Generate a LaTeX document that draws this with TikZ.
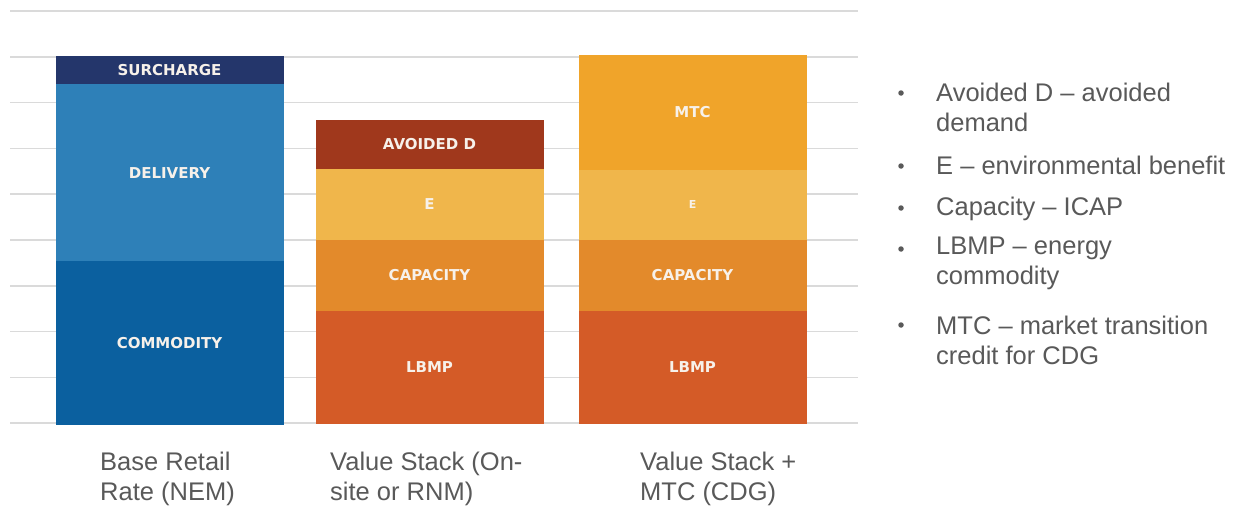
\documentclass[tikz,border=0pt]{standalone}
\usepackage{fontspec}
\setmainfont{Liberation Sans}
\newfontfamily\barfont{DejaVu Sans}
\usepackage{tikz}
\usetikzlibrary{positioning}
\definecolor{surchargeblue}{HTML}{24366B}
\definecolor{deliveryblue}{HTML}{2E80B8}
\definecolor{commodityblue}{HTML}{0B609F}
\definecolor{avoidedred}{HTML}{A0381C}
\definecolor{envyellow}{HTML}{F0B64B}
\definecolor{capacityorange}{HTML}{E38A2B}
\definecolor{lbmporange}{HTML}{D45B27}
\definecolor{mtcorange}{HTML}{F0A42A}
\definecolor{gridgray}{HTML}{DADADA}
\definecolor{labelgray}{HTML}{595959}
\definecolor{inkwhite}{HTML}{F7F1EA}
\tikzset{segment/.style={rectangle, minimum width=227pt, inner sep=0pt, fill=#1, draw=#1, line width=0.6pt, text=inkwhite, font=\barfont\bfseries\fontsize{15}{17}\selectfont}}
\tikzstyle{gridline} = [draw=gridgray, line width=1.5pt]
\tikzstyle{caption} = [anchor=north west, align=left, inner sep=0pt, text=labelgray, font=\fontsize{25.5}{30}\selectfont]
\tikzstyle{legend} = [anchor=north west, align=left, inner sep=0pt, text=labelgray, font=\fontsize{25.5}{30}\selectfont]
\tikzstyle{dot} = [circle, fill=labelgray, inner sep=0pt, minimum size=5.5pt]

\begin{document}
\begin{tikzpicture}[x=1pt, y=-1pt]
        \useasboundingbox (0,0) rectangle (1243,506);
        \foreach \y in {11,56.8,...,424}
            \draw [gridline] (10,\y) -- (858,\y);

        % base retail rate
        \node (surcharge) [segment=surchargeblue, minimum height=28pt] at (169.5,70) {SURCHARGE};
        \node (delivery) [segment=deliveryblue, minimum height=176pt, below=0pt of surcharge] {DELIVERY};
        \node (commodity) [segment=commodityblue, minimum height=163pt, below=0pt of delivery] {COMMODITY};

        % value stack
        \node (lbmp) [segment=lbmporange, minimum height=112pt] at (429.5,367) {LBMP};
        \node (capacity) [segment=capacityorange, minimum height=71pt, above=0pt of lbmp] {CAPACITY};
        \node (env) [segment=envyellow, minimum height=70pt, above=0pt of capacity] {E};
        \node (avoided) [segment=avoidedred, minimum height=48pt, above=0pt of env] {AVOIDED D};

        % value stack + mtc
        \node (lbmpmtc) [segment=lbmporange, minimum height=112pt] at (692.5,367) {LBMP};
        \node (capacitymtc) [segment=capacityorange, minimum height=71pt, above=0pt of lbmpmtc] {CAPACITY};
        \node (envmtc) [segment=envyellow, minimum height=69pt, above=0pt of capacitymtc, font=\barfont\bfseries\fontsize{11}{13}\selectfont] {E};
        \node (mtc) [segment=mtcorange, minimum height=114pt, above=0pt of envmtc] {MTC};

        \node (capnem) [caption] at (100,452) {Base Retail\\Rate (NEM)};
        \node (caprnm) [caption] at (330,452) {Value Stack (On-\\site or RNM)};
        \node (capcdg) [caption] at (640,452) {Value Stack +\\MTC (CDG)};

        % legend
        \node (legavoided) [legend] at (936,83) {Avoided D – avoided\\demand};
        \node (legenv) [legend] at (936,156) {E – environmental benefit};
        \node (legcapacity) [legend] at (936,197) {Capacity – ICAP};
        \node (leglbmp) [legend] at (936,237) {LBMP – energy\\commodity};
        \node (legmtc) [legend] at (936,316) {MTC – market transition\\credit for CDG};
        \node (dotavoided) [dot] at (901,93) {};
        \node (dotenv) [dot] at (901,166) {};
        \node (dotcapacity) [dot] at (901,208) {};
        \node (dotlbmp) [dot] at (901,249) {};
        \node (dotmtc) [dot] at (901,325) {};
    \end{tikzpicture}
\end{document}
